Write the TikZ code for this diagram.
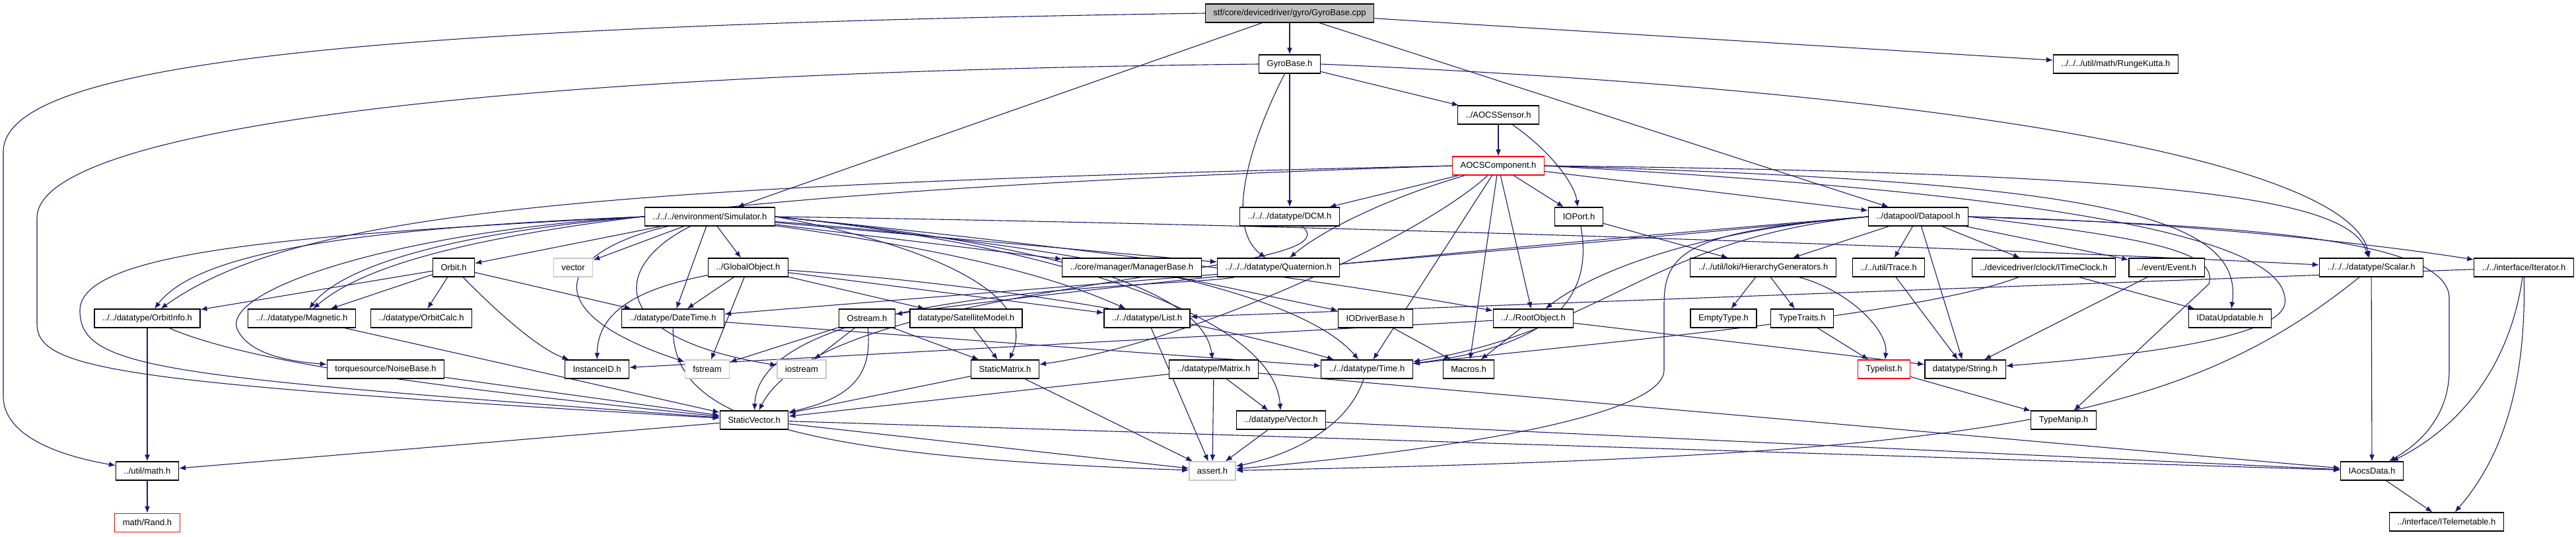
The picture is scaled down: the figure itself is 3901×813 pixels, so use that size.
\documentclass[tikz,border=0pt]{standalone}
\usepackage{fontspec}
\setmainfont{Liberation Sans}
\usetikzlibrary{shapes,arrows.meta,positioning,backgrounds}
\definecolor{edgeblue}{HTML}{191970}
\tikzset{block/.style = {draw, fill=white, rectangle, line width = 1.3pt, minimum height = 28pt, inner xsep = 12pt, inner ysep = 0pt, font = \fontsize{13}{15}\selectfont},
         root/.style = {block, fill=black!25},
         sys/.style = {block, draw=black!22},
         cut/.style = {block, draw=red},
         dep/.style = {draw=edgeblue, line width = 1.1pt, -{Latex[length=10pt,width=8pt]}},
}

\begin{document}
\begin{tikzpicture}[x=1pt, y=-1pt]
  \useasboundingbox (0,0) rectangle (3901,813);

  % files
  \node[root] (gyro_cpp) at (1953,20) {stf/core/devicedriver/gyro/GyroBase.cpp};
  \node[block] (gyro_h) at (1953,97) {GyroBase.h};
  \node[block] (runge_kutta) at (3204,97) {../../../util/math/RungeKutta.h};
  \node[block] (aocs_sensor) at (2269,174) {../AOCSSensor.h};
  \node[cut] (aocs_comp) at (2269,251) {AOCSComponent.h};

  \node[block] (simulator) at (1075,328) {../../../environment/Simulator.h};
  \node[block] (dcm) at (1953,328) {../../../datatype/DCM.h};
  \node[block] (ioport) at (2391,328) {IOPort.h};
  \node[block] (datapool) at (2905,328) {../datapool/Datapool.h};

  \node[block] (orbit) at (687,405) {Orbit.h};
  \node[sys] (vector) at (868,405) {vector};
  \node[block] (global_obj) at (1133,405) {../GlobalObject.h};
  \node[block] (manager_base) at (1714,405) {../core/manager/ManagerBase.h};
  \node[block] (quaternion) at (1936,405) {../../../datatype/Quaternion.h};
  \node[block] (hier_gen) at (2670,405) {../../util/loki/HierarchyGenerators.h};
  \node[block] (trace) at (2860,405) {../../util/Trace.h};
  \node[block] (time_clock) at (3095,405) {../devicedriver/clock/ITimeClock.h};
  \node[block] (event) at (3281,405) {../event/Event.h};
  \node[block] (scalar) at (3591,405) {../../../datatype/Scalar.h};
  \node[block] (iterator) at (3822,405) {../../interface/Iterator.h};

  \node[block] (orbit_info) at (223,482) {../../datatype/OrbitInfo.h};
  \node[block] (magnetic) at (457,482) {../../datatype/Magnetic.h};
  \node[block] (orbit_calc) at (638,482) {../datatype/OrbitCalc.h};
  \node[block] (date_time) at (1019,482) {../datatype/DateTime.h};
  \node[block] (ostream) at (1313,482) {Ostream.h};
  \node[block] (sat_model) at (1463,482) {datatype/SatelliteModel.h};
  \node[block] (list) at (1737,482) {../../datatype/List.h};
  \node[block] (io_driver) at (2083,482) {IODriverBase.h};
  \node[block] (root_object) at (2322,482) {../../RootObject.h};
  \node[block] (empty_type) at (2610,482) {EmptyType.h};
  \node[block] (type_traits) at (2729,482) {TypeTraits.h};
  \node[block] (data_updatable) at (3377,482) {IDataUpdatable.h};

  \node[block] (noise_base) at (584,559) {torquesource/NoiseBase.h};
  \node[block] (instance_id) at (904,559) {InstanceID.h};
  \node[sys] (fstream) at (1071,559) {fstream};
  \node[sys] (iostream) at (1214,559) {iostream};
  \node[block] (static_matrix) at (1522,559) {StaticMatrix.h};
  \node[block] (matrix) at (1838,559) {../datatype/Matrix.h};
  \node[block] (time) at (2070,559) {../../datatype/Time.h};
  \node[block] (macros) at (2224,559) {Macros.h};
  \node[cut] (typelist) at (2853,559) {Typelist.h};
  \node[block] (string) at (2976,559) {datatype/String.h};

  \node[block] (static_vector) at (1142,636) {StaticVector.h};
  \node[block] (vector_h) at (1940,636) {../datatype/Vector.h};
  \node[block] (type_manip) at (3125,636) {TypeManip.h};

  \node[block] (math_h) at (223,713) {../util/math.h};
  \node[sys] (assert) at (1836,713) {assert.h};
  \node[block] (aocs_data) at (3592,713) {IAocsData.h};

  \node[cut, below = 49pt of math_h] (rand) {math/Rand.h};
  \node[block] (telemetable) at (3705,790) {../interface/ITelemetable.h};

  % includes
  \begin{pgfonlayer}{background}
  \draw[dep] (gyro_cpp) -- (gyro_h);
  \draw[dep] (gyro_cpp) -- (simulator);
  \draw[dep] (gyro_cpp) -- (datapool);
  \draw[dep] (gyro_cpp) -- (runge_kutta);
  \draw[dep] (gyro_cpp.west) .. controls (500,40) and (5,100) .. (5,230) -- (5,600) .. controls (5,660) and (90,690) .. (math_h);

  \draw[dep] (gyro_h) -- (dcm);
  \draw[dep] (gyro_h) .. controls (1900,200) and (1850,340) .. (quaternion);
  \draw[dep] (gyro_h) -- (aocs_sensor);
  \draw[dep] (gyro_h.east) .. controls (3000,140) and (3560,250) .. (scalar);
  \draw[dep] (gyro_h.west) .. controls (700,110) and (56,200) .. (56,330) -- (56,490) .. controls (56,560) and (180,580) .. (static_vector);

  \draw[dep] (aocs_sensor) -- (aocs_comp);
  \draw[dep] (aocs_sensor) .. controls (2350,230) and (2385,280) .. (ioport);

  \draw[dep] (aocs_comp) -- (dcm);
  \draw[dep] (aocs_comp) .. controls (2100,300) and (2000,350) .. (quaternion);
  \draw[dep] (aocs_comp) -- (ioport);
  \draw[dep] (aocs_comp) -- (datapool);
  \draw[dep] (aocs_comp) -- (time);
  \draw[dep] (aocs_comp) -- (macros);
  \draw[dep] (aocs_comp) -- (root_object);
  \draw[dep] (aocs_comp) .. controls (2150,360) and (1800,520) .. (static_matrix);
  \draw[dep] (aocs_comp.west) .. controls (900,280) and (450,320) .. (orbit_info);
  \draw[dep] (aocs_comp.west) .. controls (1000,290) and (600,360) .. (magnetic);
  \draw[dep] (aocs_comp.east) .. controls (3300,262) and (3560,300) .. (scalar);
  \draw[dep] (aocs_comp.east) .. controls (3150,275) and (3400,320) .. (data_updatable);
  \draw[dep] (aocs_comp.east) .. controls (3250,300) and (3470,380) .. (3460,460) .. controls (3450,520) and (3150,545) .. (string);

  \draw[dep] (simulator.west) .. controls (450,355) and (121,380) .. (121,470) .. controls (121,560) and (250,570) .. (static_vector);
  \draw[dep] (simulator.west) .. controls (550,345) and (300,380) .. (orbit_info);
  \draw[dep] (simulator.west) .. controls (700,350) and (520,400) .. (magnetic);
  \draw[dep] (simulator.west) .. controls (600,350) and (330,440) .. (360,500) .. controls (380,540) and (450,548) .. (noise_base);
  \draw[dep] (simulator) -- (orbit);
  \draw[dep] (simulator) -- (vector);
  \draw[dep] (simulator) -- (global_obj);
  \draw[dep] (simulator) -- (date_time);
  \draw[dep] (simulator) .. controls (850,380) and (800,470) .. (fstream);
  \draw[dep] (simulator) .. controls (930,400) and (910,510) .. (iostream);
  \draw[dep] (simulator) -- (manager_base);
  \draw[dep] (simulator) -- (quaternion);
  \draw[dep] (simulator) .. controls (1450,380) and (1600,420) .. (list);
  \draw[dep] (simulator) .. controls (1500,360) and (1950,420) .. (time);
  \draw[dep] (simulator.east) .. controls (1350,360) and (1580,430) .. (static_matrix);
  \draw[dep] (simulator.east) .. controls (1500,360) and (1820,420) .. (matrix);
  \draw[dep] (simulator.east) .. controls (1600,370) and (1930,480) .. (vector_h);
  \draw[dep] (simulator.east) .. controls (2000,340) and (3000,375) .. (scalar);
  \draw[dep] (simulator.east) .. controls (1700,380) and (2100,440) .. (root_object);

  \draw[dep] (datapool) -- (trace);
  \draw[dep] (datapool) -- (time_clock);
  \draw[dep] (datapool) -- (event);
  \draw[dep] (datapool) -- (string);
  \draw[dep] (datapool) -- (hier_gen);
  \draw[dep] (datapool.east) .. controls (3300,335) and (3600,370) .. (iterator);
  \draw[dep] (datapool.east) .. controls (3300,340) and (3705,350) .. (3709,450) -- (3709,560) .. controls (3709,640) and (3650,680) .. (aocs_data);
  \draw[dep] (datapool.east) .. controls (3250,360) and (3360,380) .. (3345,430) -- (type_manip);
  \draw[dep] (datapool.west) .. controls (2550,350) and (2400,420) .. (root_object);
  \draw[dep] (datapool.west) .. controls (2500,360) and (2430,500) .. (time);
  \draw[dep] (datapool.west) .. controls (2560,350) and (2520,380) .. (2520,460) -- (2520,560) .. controls (2520,640) and (2100,690) .. (assert);
  \draw[dep] (datapool.west) .. controls (2200,380) and (1600,440) .. (ostream);
  \draw[dep] (datapool.west) .. controls (2200,390) and (1400,450) .. (date_time);

  \draw[dep] (iterator) -- (list);
  \draw[dep] (iterator) .. controls (3800,560) and (3720,650) .. (aocs_data);
  \draw[dep] (iterator) .. controls (3825,560) and (3800,680) .. (telemetable);

  \draw[dep] (ioport) -- (hier_gen);
  \draw[dep] (ioport) .. controls (2420,480) and (2300,530) .. (time);
  \draw[dep] (manager_base) -- (io_driver);
  \draw[dep] (io_driver) -- (macros);
  \draw[dep] (root_object) -- (macros);
  \draw[dep] (root_object) -- (string);
  \draw[dep] (root_object) -- (instance_id);
  \draw[dep] (hier_gen) -- (empty_type);
  \draw[dep] (hier_gen) -- (type_traits);
  \draw[dep] (hier_gen) .. controls (2800,440) and (2860,500) .. (typelist);
  \draw[dep] (type_traits) -- (typelist);
  \draw[dep] (typelist) -- (type_manip);
  \draw[dep] (trace) -- (string);
  \draw[dep] (time_clock) .. controls (2900,480) and (2400,520) .. (time);
  \draw[dep] (time_clock) -- (data_updatable);
  \draw[dep] (event) -- (string);
  \draw[dep] (scalar) -- (aocs_data);
  \draw[dep] (scalar) .. controls (3300,640) and (3000,690) .. (assert);
  \draw[dep] (aocs_data) -- (telemetable);

  \draw[dep] (matrix) -- (vector_h);
  \draw[dep] (matrix) -- (assert);
  \draw[dep] (matrix) -- (static_vector);
  \draw[dep] (matrix) -- (aocs_data);
  \draw[dep] (vector_h) -- (assert);
  \draw[dep] (vector_h) -- (aocs_data);
  \draw[dep] (static_vector) -- (assert);
  \draw[dep] (static_vector) -- (math_h);
  \draw[dep] (static_vector) -- (aocs_data);
  \draw[dep] (static_matrix) -- (static_vector);
  \draw[dep] (static_matrix) -- (assert);
  \draw[dep] (list) -- (assert);
  \draw[dep] (time) .. controls (2040,650) and (1950,690) .. (assert);
  \draw[dep] (date_time) .. controls (1020,620) and (1150,690) .. (assert);
  \draw[dep] (date_time) -- (time);

  \draw[dep] (ostream) -- (fstream);
  \draw[dep] (ostream) -- (iostream);
  \draw[dep] (ostream) .. controls (1320,560) and (1300,600) .. (static_vector);
  \draw[dep] (ostream) -- (static_matrix);
  \draw[dep] (sat_model) -- (static_matrix);
  \draw[dep] (global_obj) -- (date_time);
  \draw[dep] (global_obj) -- (fstream);
  \draw[dep] (global_obj) .. controls (950,440) and (905,480) .. (instance_id);
  \draw[dep] (global_obj) -- (sat_model);
  \draw[dep] (global_obj) -- (list);
  \draw[dep] (global_obj) .. controls (1500,430) and (1800,480) .. (time);

  \draw[dep] (orbit) -- (orbit_info);
  \draw[dep] (orbit) -- (magnetic);
  \draw[dep] (orbit) -- (orbit_calc);
  \draw[dep] (orbit) .. controls (760,480) and (820,530) .. (instance_id);
  \draw[dep] (orbit) -- (date_time);
  \draw[dep] (orbit_info) -- (math_h);
  \draw[dep] (orbit_info) .. controls (400,560) and (800,600) .. (static_vector);
  \draw[dep] (magnetic) -- (static_vector);
  \draw[dep] (noise_base) -- (static_vector);
  \draw[dep] (math_h) -- (rand);
  \draw[dep] (dcm) .. controls (2070,420) and (1250,420) .. (static_vector);
  \draw[dep] (quaternion) .. controls (1800,435) and (1150,430) .. (static_vector);
  \end{pgfonlayer}

\end{tikzpicture}
\end{document}
